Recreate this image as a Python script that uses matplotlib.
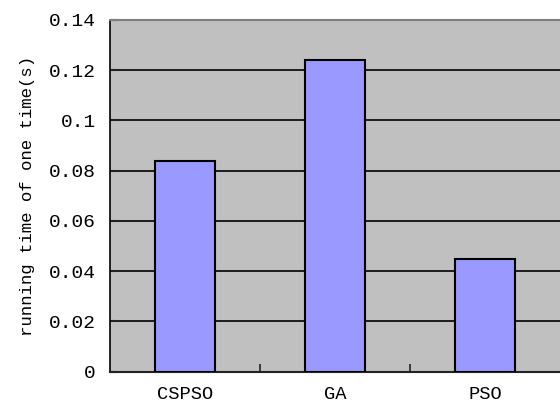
import matplotlib.pyplot as plt
import numpy as np

# running time per single run for each algorithm
algorithms = ['CSPSO', 'GA', 'PSO']
run_times = [0.084, 0.124, 0.045]
y_ticks = [0, 0.02, 0.04, 0.06, 0.08, 0.1, 0.12, 0.14]
y_tick_labels = ['0', '0.02', '0.04', '0.06', '0.08', '0.1', '0.12', '0.14']

plt.rcParams['font.family'] = ['Liberation Mono', 'DejaVu Sans Mono']
plt.rcParams['font.size'] = 14

fig = plt.figure(figsize=(5.6, 4.12), dpi=100)
ax = fig.add_axes([0.1964, 0.0978, 0.8036, 0.8537])
ax.set_facecolor('#C0C0C0')

x = np.arange(len(algorithms))
ax.bar(x, run_times, width=0.4, color='#9999FF', edgecolor='black',
       linewidth=1.5, zorder=3)

ax.set_xlim(-0.5, 2.5)
ax.set_ylim(0, 0.14)
ax.set_yticks(y_ticks)
ax.set_yticklabels(y_tick_labels)
ax.yaxis.grid(True, color='black', linewidth=1.2, zorder=1)
ax.set_axisbelow(True)

# category labels centred under bars, tick marks on category boundaries
ax.set_xticks(x)
ax.set_xticklabels(algorithms, fontsize=13.5)
ax.set_xticks([0.5, 1.5], minor=True)
ax.tick_params(axis='x', which='major', length=0, pad=10)
ax.tick_params(axis='x', which='minor', direction='in', length=6,
               width=1.2, color='#222222')
ax.tick_params(axis='y', direction='in', length=6, width=1.5, pad=10,
               color='#222222')

ax.spines['top'].set_color('#7F7F7F')
ax.spines['top'].set_linewidth(1.5)
ax.spines['right'].set_visible(False)
ax.spines['left'].set_color('black')
ax.spines['left'].set_linewidth(1.2)
ax.spines['bottom'].set_color('#222222')
ax.spines['bottom'].set_linewidth(1.5)

ax.set_ylabel('running time of one time(s)', fontsize=12.5, labelpad=10)

fig.savefig('out.png', dpi=100)
